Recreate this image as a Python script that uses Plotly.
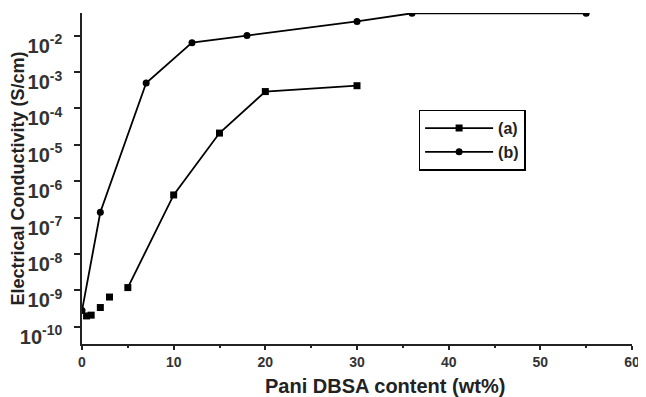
import plotly.graph_objects as go

# Data
a_x_start = [0.5, 1, 2, 3]
a_y_start = [2.0e-10, 2.1e-10, 3.4e-10, 6.6e-10]
a_x = [5, 10, 15, 20, 30]
a_y = [1.2e-9, 4.2e-7, 2.1e-5, 2.9e-4, 4.2e-4]

b_x = [0, 2, 7, 12, 18, 30, 36, 55]
b_y = [2.8e-10, 1.4e-7, 5.0e-4, 6.4e-3, 1.0e-2, 2.45e-2, 4.1e-2, 4.1e-2]

y_tick_exps = [-10, -9, -8, -7, -6, -5, -4, -3, -2]
y_tick_vals = [10.0 ** e for e in y_tick_exps]
y_tick_text = ["10<sup>%d</sup>" % e for e in y_tick_exps]

x_title = "Pani DBSA content (wt%)"
y_title = "Electrical Conductivity (S/cm)"

font_family = "Liberation Sans, Arial, sans-serif"

fig = go.Figure()
fig.add_trace(go.Scatter(
    x=a_x_start, y=a_y_start, mode="markers", name="(a)", legendgroup="a",
    showlegend=False,
    marker=dict(symbol="square", size=7, color="black"),
))
fig.add_trace(go.Scatter(
    x=a_x, y=a_y, mode="lines+markers", name="(a)", legendgroup="a",
    line=dict(color="black", width=1.8),
    marker=dict(symbol="square", size=7, color="black"),
))
fig.add_trace(go.Scatter(
    x=b_x, y=b_y, mode="lines+markers", name="(b)", legendgroup="b",
    line=dict(color="black", width=1.8),
    marker=dict(symbol="circle", size=7, color="black"),
))

fig.update_layout(
    width=638, height=389,
    margin=dict(l=74, r=14, t=5, b=53),
    paper_bgcolor="white", plot_bgcolor="white",
    font=dict(family=font_family, color="#222"),
    legend=dict(
        x=0.612, y=0.708, xanchor="left", yanchor="top",
        bordercolor="black", borderwidth=1.5, bgcolor="white",
        font=dict(size=16, family=font_family, color="#222", weight="bold"),
        tracegroupgap=0, itemwidth=68,
    ),
    annotations=[dict(
        text=x_title, xref="paper", yref="paper", x=0.551, y=-0.127,
        xanchor="center", yanchor="middle", showarrow=False,
        font=dict(size=20, family=font_family, color="#222", weight="bold"),
    )],
)
fig.update_xaxes(
    range=[0, 60], tickvals=[0, 10, 20, 30, 40, 50, 60],
    showgrid=False, zeroline=False, automargin=False,
    showline=True, linecolor="#222", linewidth=1.5,
    ticks="outside", ticklen=4, tickwidth=1.5, tickcolor="#222",
    tickfont=dict(size=14, family=font_family, color="#333", weight="bold"),
    minor=dict(tickvals=[5, 15, 25, 35, 45, 55], ticks="outside", ticklen=2, tickcolor="#222"),
)
fig.update_yaxes(
    type="log", range=[-10.47, -1.38],
    tickvals=y_tick_vals, ticktext=y_tick_text,
    showgrid=False, zeroline=False, automargin=False,
    showline=True, linecolor="#222", linewidth=1.5,
    ticks="outside", ticklen=6, tickwidth=1.5, tickcolor="#222",
    tickfont=dict(size=20, family=font_family, color="#333", weight="bold"),
    ticklabelshift=10, ticklabelstandoff=8,
    title=dict(text=y_title,
               font=dict(size=18, family=font_family, color="#222", weight="bold"), standoff=0),
)

fig.write_html("out.html")
